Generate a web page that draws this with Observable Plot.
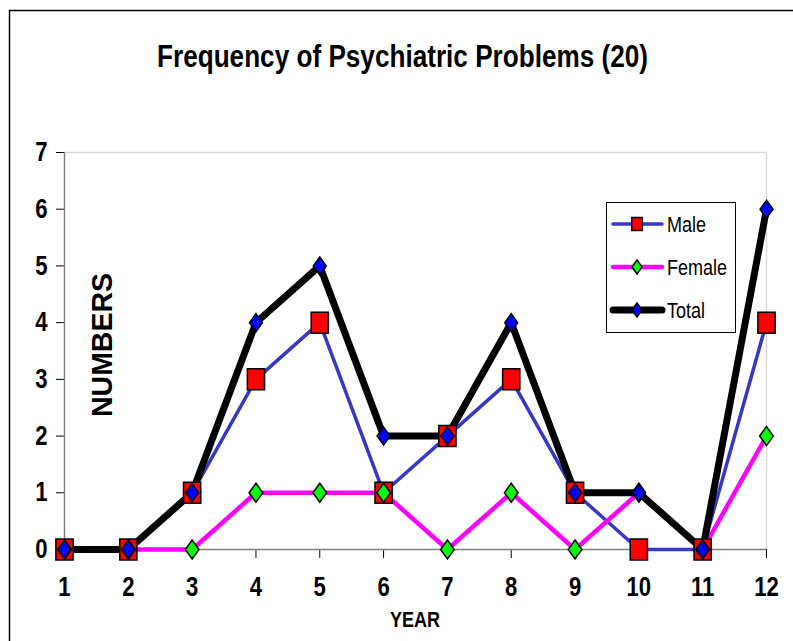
<!DOCTYPE html>
<html><head><meta charset="utf-8">
<script src="https://cdn.jsdelivr.net/npm/d3@7"></script>
<script src="https://cdn.jsdelivr.net/npm/@observablehq/plot@0.6"></script>
<style>
html,body{margin:0;padding:0;background:#fff;}
#chart svg{display:block;}
</style>
</head><body><div id="chart"></div>
<script>
const years = [1,2,3,4,5,6,7,8,9,10,11,12];
const male = [0,0,1,3,4,1,2,3,1,0,0,4];
const female = [0,0,0,1,1,1,0,1,0,1,0,2];
const total = [0,0,1,4,5,2,2,4,1,1,0,6];
const yTicks = [0,1,2,3,4,5,6,7];
const seriesNames = ["Male","Female","Total"];
const titleText = "Frequency of Psychiatric Problems (20)";
const xLabel = "YEAR";
const yLabel = "NUMBERS";

const FONT = "'Liberation Sans',Arial,sans-serif";
const SQUASH = 0.82;

const toRows = arr => years.map((y, i) => ({year: y, value: arr[i]}));
const maleRows = toRows(male), femaleRows = toRows(female), totalRows = toRows(total);

const rectSymbol = {draw(ctx, size){const r = Math.sqrt(size/Math.PI); const w = r*0.82; ctx.rect(-w, -r, 2*w, 2*r);}};
const diamondSymbol = {draw(ctx, size){const r = Math.sqrt(size/Math.PI); const w = r*0.72; ctx.moveTo(0,-r); ctx.lineTo(w,0); ctx.lineTo(0,r); ctx.lineTo(-w,0); ctx.closePath();}};

const styles = {
  Male: {stroke: "#3737c8", width: 3.5, fill: "#ff0000", symbol: rectSymbol, r: 10.5, lr: 6.5},
  Female: {stroke: "#ff00ff", width: 4.5, fill: "#00ff00", symbol: diamondSymbol, r: 9.5, lr: 7},
  Total: {stroke: "#000000", width: 7, fill: "#0000ff", symbol: diamondSymbol, r: 9, lr: 7}
};

const plot = Plot.plot({
  width: 793,
  height: 641,
  marginLeft: 64,
  marginRight: 27,
  marginTop: 152,
  marginBottom: 92,
  style: {fontFamily: FONT, fontSize: "27px", fontWeight: "bold", color: "#000", background: "#fff"},
  x: {type: "linear", domain: [1, 12]},
  y: {type: "linear", domain: [0, 7]},
  marks: [
    Plot.ruleY([7], {stroke: "#d9d9d9", strokeWidth: 1.5}),
    Plot.ruleX([12], {stroke: "#d9d9d9", strokeWidth: 1.5}),
    Plot.axisX({ticks: years, tickFormat: d => String(d), tickSize: 9, tickPadding: 18, label: null, stroke: "#000"}),
    Plot.axisY({ticks: yTicks, tickFormat: d => String(d), tickSize: 8, tickPadding: 9, label: null, stroke: "#000"}),
    Plot.ruleX([1], {stroke: "#808080", strokeWidth: 1.5}),
    Plot.ruleY([0], {stroke: "#808080", strokeWidth: 1.5}),
    Plot.line(maleRows, {x: "year", y: "value", stroke: styles.Male.stroke, strokeWidth: styles.Male.width}),
    Plot.line(femaleRows, {x: "year", y: "value", stroke: styles.Female.stroke, strokeWidth: styles.Female.width}),
    Plot.line(totalRows, {x: "year", y: "value", stroke: styles.Total.stroke, strokeWidth: styles.Total.width}),
    Plot.dot(maleRows, {x: "year", y: "value", r: styles.Male.r, symbol: rectSymbol, fill: styles.Male.fill, stroke: "#000", strokeWidth: 1.5}),
    Plot.dot(femaleRows, {x: "year", y: "value", r: styles.Female.r, symbol: diamondSymbol, fill: styles.Female.fill, stroke: "#000", strokeWidth: 1.5}),
    Plot.dot(totalRows, {x: "year", y: "value", r: styles.Total.r, symbol: diamondSymbol, fill: styles.Total.fill, stroke: "#000", strokeWidth: 1.5})
  ]
});

document.getElementById("chart").appendChild(plot);

const svg = d3.select(plot);
// narrow the axis tick labels horizontally (condensed look)
svg.selectAll("g[aria-label$='tick label'] text").each(function() {
  const t = this.getAttribute("transform") || "";
  this.setAttribute("transform", `${t} scale(${SQUASH},1)`);
});

// outer chart border
svg.append("rect").attr("x", 9.5).attr("y", 10.5).attr("width", 820).attr("height", 700)
  .attr("fill", "none").attr("stroke", "#000").attr("stroke-width", 1.5);

// title
svg.append("text").attr("x", 402.5).attr("y", 67).attr("text-anchor", "middle")
  .attr("font-family", FONT).attr("font-size", 32).attr("font-weight", "bold")
  .attr("textLength", 491).attr("lengthAdjust", "spacingAndGlyphs").text(titleText);

// x label
svg.append("text").attr("x", 415).attr("y", 627).attr("text-anchor", "middle")
  .attr("font-family", FONT).attr("font-size", 22).attr("font-weight", "bold")
  .attr("textLength", 50).attr("lengthAdjust", "spacingAndGlyphs").text(xLabel);

// y label
svg.append("text").attr("transform", "translate(112,345) rotate(-90)").attr("text-anchor", "middle")
  .attr("font-family", FONT).attr("font-size", 30).attr("font-weight", "bold")
  .attr("textLength", 144).attr("lengthAdjust", "spacingAndGlyphs").text(yLabel);

// legend
const lg = svg.append("g");
lg.append("rect").attr("x", 606.5).attr("y", 202.5).attr("width", 129).attr("height", 130)
  .attr("fill", "#fff").attr("stroke", "#000").attr("stroke-width", 1);
const legendY = [224, 267, 310];
seriesNames.forEach((name, i) => {
  const s = styles[name];
  const y = legendY[i];
  lg.append("line").attr("x1", 613).attr("x2", 662).attr("y1", y).attr("y2", y)
    .attr("stroke", s.stroke).attr("stroke-width", s.width).attr("stroke-linecap", "round");
  const sym = d3.path();
  s.symbol.draw(sym, Math.PI * s.lr * s.lr);
  lg.append("path").attr("d", sym.toString()).attr("transform", `translate(637,${y})`)
    .attr("fill", s.fill).attr("stroke", "#000").attr("stroke-width", 1.5);
  lg.append("text").attr("transform", `translate(667,${y + 8}) scale(${SQUASH},1)`)
    .attr("text-anchor", "start").attr("font-family", FONT)
    .attr("font-size", 22).attr("font-weight", "normal").text(name);
});
</script>
</body></html>
